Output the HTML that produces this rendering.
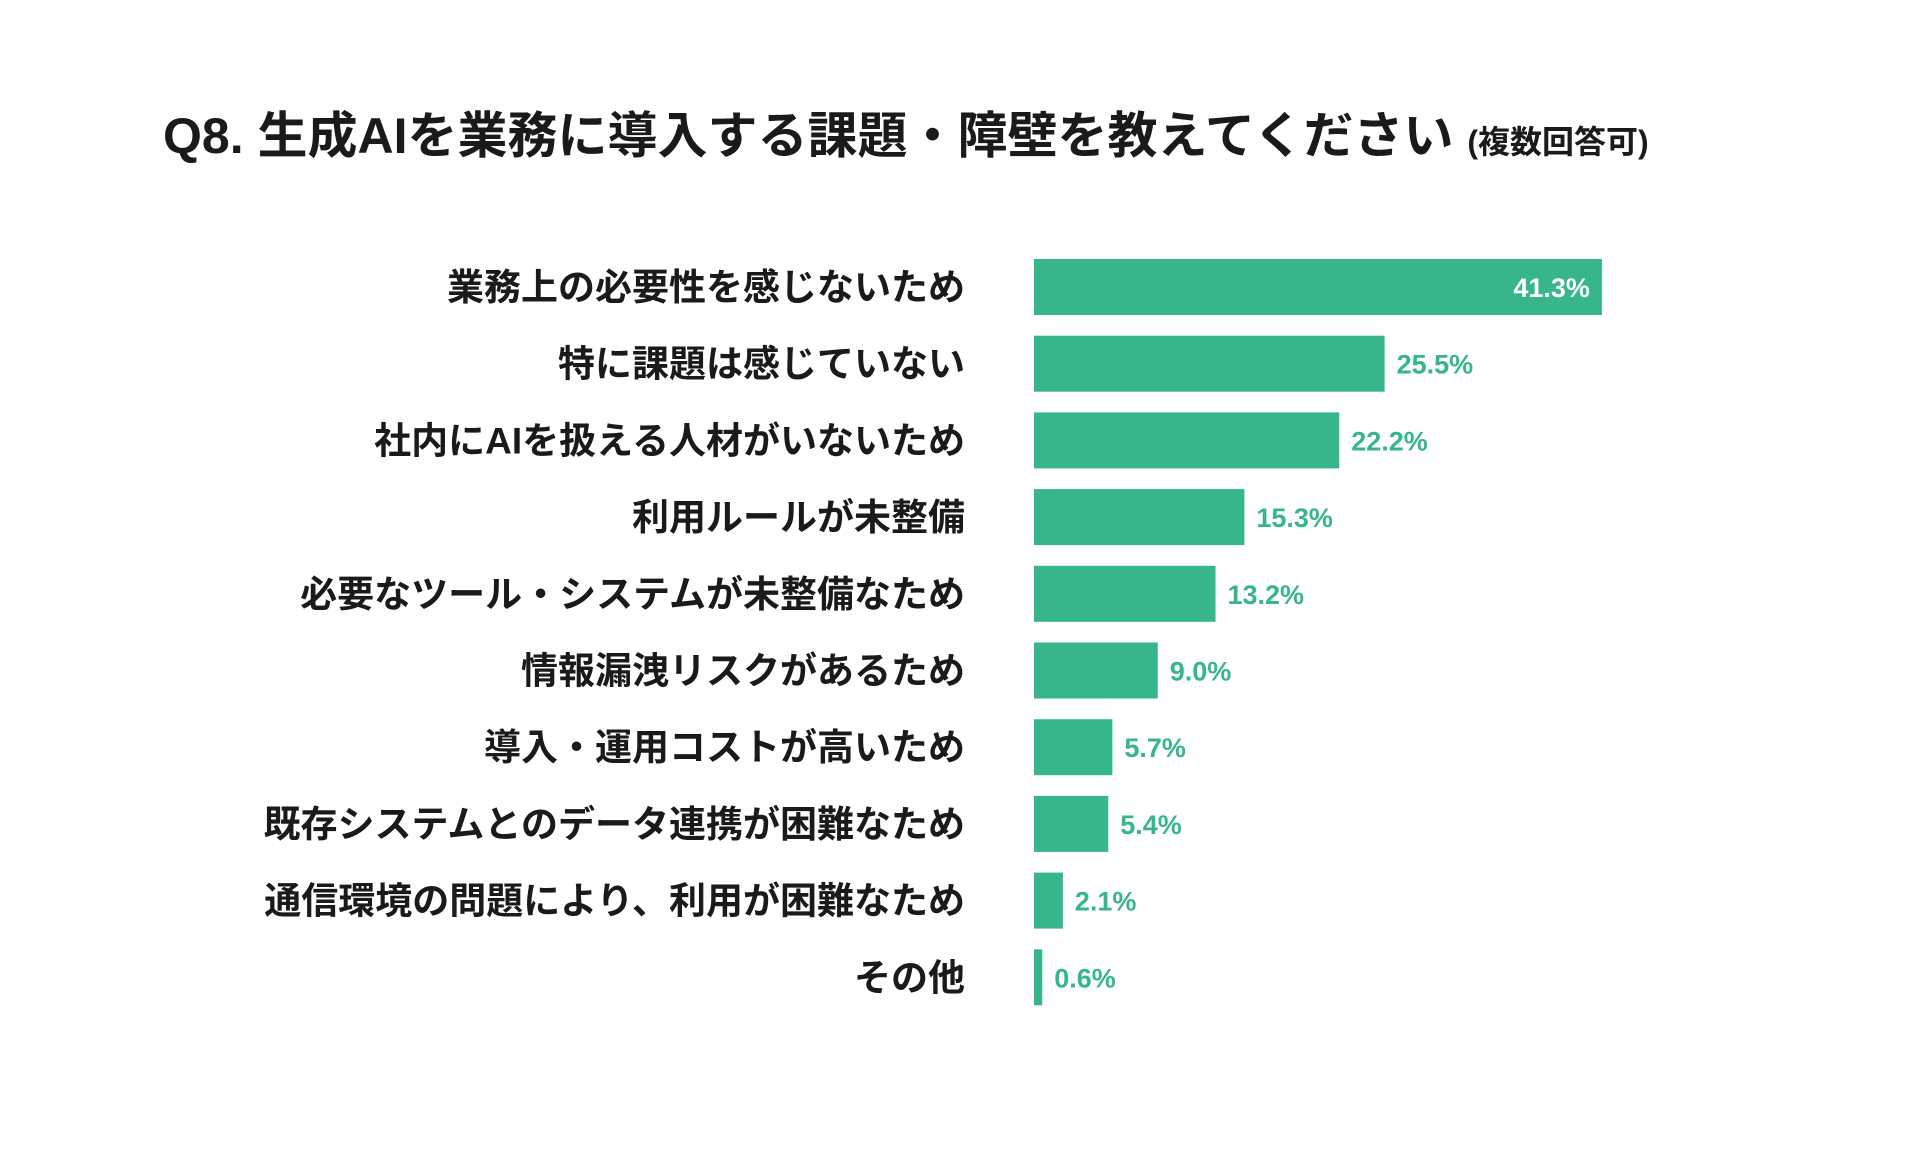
<!DOCTYPE html>
<html><head><meta charset="utf-8"><style>
body{margin:0;width:1920px;height:1150px;background:#fff;overflow:hidden;font-family:"Liberation Sans","Noto Sans CJK JP",sans-serif;}
#title{position:absolute;left:163px;top:104px;font-size:50px;font-weight:bold;color:#1a1a1a;white-space:nowrap;line-height:64px;}
#title small{font-size:32px;}
svg{position:absolute;left:0;top:0;}
</style></head><body>
<div id="title">Q8. 生成AIを業務に導入する課題・障壁を教えてください <small>(複数回答可)</small></div>
<svg id="chart" width="1920" height="1150"></svg>
<script>
const categories=["業務上の必要性を感じないため","特に課題は感じていない","社内にAIを扱える人材がいないため","利用ルールが未整備","必要なツール・システムが未整備なため","情報漏洩リスクがあるため","導入・運用コストが高いため","既存システムとのデータ連携が困難なため","通信環境の問題により、利用が困難なため","その他"];
const values=[41.3,25.5,22.2,15.3,13.2,9.0,5.7,5.4,2.1,0.6];
const valueLabels=["41.3%","25.5%","22.2%","15.3%","13.2%","9.0%","5.7%","5.4%","2.1%","0.6%"];
const X0=1034,PX=13.75,Y0=259,PITCH=76.7,BH=56;
const xs=v=>X0+v*PX, ys=i=>Y0+i*PITCH;
const svg=document.getElementById('chart'),NS="http://www.w3.org/2000/svg";
function mk(t,a){const e=document.createElementNS(NS,t);for(const k in a)e.setAttribute(k,a[k]);svg.appendChild(e);return e;}
categories.forEach((c,i)=>{
  const y=ys(i);
  const lab=mk('text',{x:965,y:y+BH/2+13,'text-anchor':'end','font-size':37,'font-weight':'bold',fill:'#1a1a1a'});
  lab.textContent=c;
  
  
  const r=mk('rect',{x:X0,y:y,width:xs(values[i])-X0,height:BH,fill:'#36b68a'});
  
  
  const inside=i===0;
  const vt=mk('text',{x:inside?xs(values[i])-12:xs(values[i])+12,y:y+BH/2+10,'text-anchor':inside?'end':'start','font-size':27,'font-weight':'bold',fill:inside?'#fff':'#36b68a'});
  vt.textContent=valueLabels[i];
  
  
});
</script>
</body></html>
